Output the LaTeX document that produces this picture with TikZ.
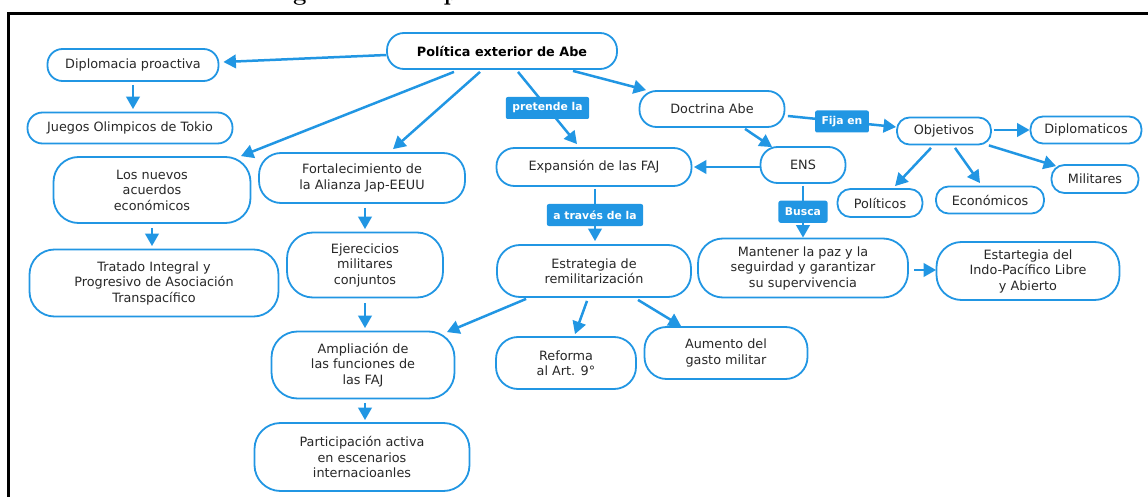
\documentclass[tikz,border=0pt]{standalone}
\usepackage{fontspec}
\newfontfamily\dejavu{DejaVu Sans}
\usetikzlibrary{arrows.meta,calc}
\definecolor{cmblue}{RGB}{33,150,227}
\definecolor{cmtext}{RGB}{40,40,40}
\tikzset{
  concept/.style={draw=cmblue, line width=1.8pt, fill=white, rounded corners=#1,
    align=center, text=cmtext, inner sep=0pt,
    font=\dejavu\fontsize{12.8}{15.5}\selectfont},
  concept/.default=15pt,
  sz/.style 2 args={minimum width=#1, minimum height=#2},
  lbl/.style={fill=cmblue, text=white, rounded corners=2pt, inner xsep=6.5pt,
    inner ysep=0pt, minimum height=22pt,
    font=\dejavu\bfseries\fontsize{10.8}{12}\selectfont},
  arr/.style={draw=cmblue, line width=2.5pt,
    -{Triangle[length=12.5pt,width=13.5pt]}},
  frame/.style={line width=3pt, black},
}
\begin{document}
\begin{tikzpicture}[x=1pt,y=-1pt]
\useasboundingbox (0,0) rectangle (1148,497);

% heading above the frame (only its lower part lies on the page)
\node[anchor=base, inner sep=0pt, font=\bfseries\fontsize{24}{28}\selectfont] (tg) at (300,1) {g};
\node[anchor=base, inner sep=0pt, font=\bfseries\fontsize{24}{28}\selectfont] (tp) at (451,1) {p};

% frame
\draw[frame] (8,497) -- (8,14) -- (1148,14);

% concepts
\node[concept=17pt, sz={230pt}{36pt}, text=black,
      font=\dejavu\bfseries\fontsize{12.8}{15.5}\selectfont] (pol) at (502,51) {Política exterior de Abe};
\node[concept=15pt, sz={171pt}{32pt}] (dip) at (133,65) {Diplomacia proactiva};
\node[concept=15pt, sz={205pt}{31pt}] (jot) at (130,128) {Juegos Olimpicos de Tokio};
\node[concept=25pt, sz={197pt}{66pt}] (nue) at (152,190) {Los nuevos\\acuerdos\\económicos};
\node[concept=25pt, sz={249pt}{67pt}] (tpp) at (154,283) {Tratado Integral y\\Progresivo de Asociación\\Transpacífico};
\node[concept=22pt, sz={206pt}{50pt}] (fort) at (362,178) {Fortalecimiento de\\la Alianza Jap-EEUU};
\node[concept=26pt, sz={156pt}{65pt}] (ejer) at (365,265) {Ejerecicios\\militares\\conjuntos};
\node[concept=26pt, sz={183pt}{67pt}] (amp) at (363,365) {Ampliación de\\las funciones de\\las FAJ};
\node[concept=26pt, sz={215pt}{68pt}] (part) at (362,457) {Participación activa\\en escenarios\\internacioanles};
\node[concept=18pt, sz={195pt}{38pt}] (exp) at (594,167) {Expansión de las FAJ};
\node[concept=23pt, sz={194pt}{52pt}] (estr) at (594,271) {Estrategia de\\remilitarización};
\node[concept=22pt, sz={140pt}{52pt}] (ref) at (566,363) {Reforma\\al Art. 9°};
\node[concept=22pt, sz={163pt}{52pt}] (aum) at (726,353) {Aumento del\\gasto militar};
\node[concept=17pt, sz={145pt}{36pt}] (doc) at (712,109) {Doctrina Abe};
\node[concept=17pt, sz={85pt}{36pt}] (ens) at (803,165) {ENS};
\node[concept=25pt, sz={210pt}{59pt}] (mant) at (803,268) {Mantener la paz y la\\seguirdad y garantizar\\su supervivencia};
\node[concept=25pt, sz={183pt}{58pt}] (indo) at (1028,271) {Estartegia del\\Indo-Pacífico Libre\\y Abierto};
\node[concept=12.5pt, sz={94pt}{27pt}] (obj) at (944,131) {Objetivos};
\node[concept=12.5pt, sz={111pt}{27pt}] (diplo) at (1086,130) {Diplomaticos};
\node[concept=13pt, sz={87pt}{28pt}] (mil) at (1095,179) {Militares};
\node[concept=13pt, sz={85pt}{28pt}] (poli) at (880,203) {Políticos};
\node[concept=12.5pt, sz={108pt}{27pt}] (eco) at (990,200) {Económicos};

% connectors
\draw[arr] ($(pol.west)+(0,4)$) -- ($(dip.east)+(4,-3)$);
\draw[arr] ($(dip.south)+(0,3)$) -- ($(jot.north)+(3,-2.5)$);
\draw[arr] ($(pol.south)+(-48,2)$) -- ($(nue.north east)+(-10.5,0)$);
\draw[arr] ($(pol.south)+(-22,2)$) -- ($(fort.north)+(31,-3)$);
\draw[arr] ($(pol.south)+(16,2)$) -- node[lbl] (lpre) {pretende la} ($(exp.north)+(-17,-3)$);
\draw[arr] ($(pol.south)+(71,1)$) -- ($(doc.north west)+(7.5,0)$);
\draw[arr] ($(doc.south)+(33,1)$) -- ($(ens.north west)+(12.5,1)$);
\draw[arr] ($(doc.east)+(2.5,7)$) -- node[lbl] (lfija) {Fija en} ($(obj.west)+(0,-4)$);
\draw[arr] ($(ens.west)+(0,2)$) -- ($(exp.east)+(1.5,0)$);
\draw[arr] ($(ens.south)+(0,2)$) -- node[lbl] (lbus) {Busca} (mant.north);
\draw[arr] ($(obj.east)+(2,-1)$) -- (diplo.west);
\draw[arr] ($(obj.south east)+(-3,0)$) -- ($(mil.north west)+(5.5,2)$);
\draw[arr] ($(obj.south)+(-13,2.5)$) -- ($(poli.north)+(15,-2)$);
\draw[arr] ($(obj.south)+(11,2.5)$) -- ($(eco.north)+(-10,-2.5)$);
\draw[arr] ($(mant.east)+(5,2)$) -- ($(indo.west)+(0.5,-1)$);
\draw[arr] ($(nue.south)+(0,4)$) -- ($(tpp.north)+(-2,-2.5)$);
\draw[arr] ($(fort.south)+(3,4)$) -- ($(ejer.north)+(0,-2.5)$);
\draw[arr] ($(ejer.south)+(0,5)$) -- ($(amp.north)+(2,-2.5)$);
\draw[arr] ($(amp.south)+(2,3.5)$) -- ($(part.north)+(3,-2)$);
\draw[arr] ($(exp.south)+(1,2)$) -- node[lbl] (ltra) {a través de la} ($(estr.north)+(1,-3)$);
\draw[arr] ($(estr.south west)+(30,1)$) -- ($(amp.north east)+(-8.5,1.5)$);
\draw[arr] ($(estr.south)+(-7,3)$) -- ($(ref.north)+(9,-2)$);
\draw[arr] ($(estr.south)+(44,2)$) -- ($(aum.north west)+(37.5,0)$);
\end{tikzpicture}
\end{document}
